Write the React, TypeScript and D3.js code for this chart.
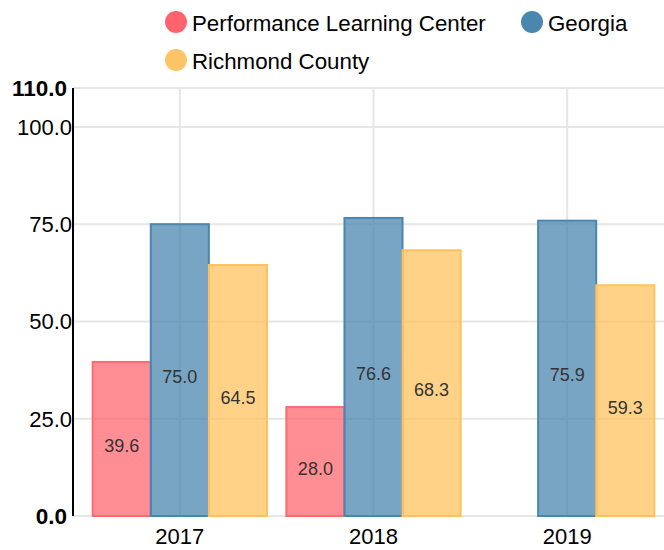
import React from 'react';
import * as d3 from 'd3';

const years = ['2017', '2018', '2019'];
const seriesNames = ['Performance Learning Center', 'Georgia', 'Richmond County'];
const plcValues: (number | null)[] = [39.6, 28.0, null];
const georgiaValues: (number | null)[] = [75.0, 76.6, 75.9];
const richmondValues: (number | null)[] = [64.5, 68.3, 59.3];
const yTicks = [0, 25, 50, 75, 100, 110];

const fills = ['#ff5c66', '#3f7fab', '#ffbf55'];
const strokes = ['#ff6a70', '#4a87b0', '#fdc25e'];
const legendColors = ['#ff646e', '#4a86ad', '#ffc466'];

const width = 664;
const height = 550;
const font = '"Liberation Sans", Arial, Helvetica, sans-serif';

const App: React.FC = () => {
  const series = [plcValues, georgiaValues, richmondValues];

  const axisX = 73;
  const y = d3.scaleLinear().domain([0, 110]).range([516, 88]);
  const x = d3.scaleBand<string>().domain(years).range([83, 664]).paddingInner(0.1).paddingOuter(0.05);
  const x1 = d3.scaleBand<number>().domain([0, 1, 2]).range([0, x.bandwidth()]);

  return (
    <svg width={width} height={height} style={{ position: 'absolute', left: 0, top: 0 }} fontFamily={font}>
      {/* gridlines */}
      {yTicks.map(t => (
        <line key={'h' + t} x1={axisX} x2={width} y1={y(t)} y2={y(t)} stroke="#e6e6e6" strokeWidth={2} />
      ))}
      {years.map(yr => (
        <line key={'v' + yr} x1={x(yr)! + x.bandwidth() / 2} x2={x(yr)! + x.bandwidth() / 2}
          y1={y(110)} y2={y(0)} stroke="#e6e6e6" strokeWidth={2} />
      ))}

      {/* bars */}
      {years.map((yr, i) => (
        <g key={yr} transform={`translate(${x(yr)},0)`}>
          {series.map((vals, s) => {
            const v = vals[i];
            if (v == null) return null;
            const bx = x1(s)!;
            const top = y(v);
            return (
              <g key={s}>
                <rect x={bx} y={top} width={x1.bandwidth()} height={y(0) - top}
                  fill={fills[s]} fillOpacity={0.7} stroke={strokes[s]} strokeWidth={2} />
                <text x={bx + x1.bandwidth() / 2} y={(top + y(0)) / 2 + 13} textAnchor="middle"
                  fontSize={18} fill="#333">{v.toFixed(1)}</text>
              </g>
            );
          })}
        </g>
      ))}

      {/* y axis */}
      <line x1={axisX} x2={axisX} y1={y(110)} y2={y(0)} stroke="#000" strokeWidth={2} />
      {yTicks.map(t => {
        const bold = t === 0 || t === 110;
        return (
          <text key={'t' + t} x={bold ? axisX - 6 : axisX - 1} y={y(t)} dy="0.36em" textAnchor="end"
            fontSize={bold ? 22.5 : 22} fontWeight={bold ? 'bold' : 'normal'} fill="#000">{t.toFixed(1)}</text>
        );
      })}

      {/* x labels */}
      {years.map(yr => (
        <text key={'x' + yr} x={x(yr)! + x.bandwidth() / 2} y={544} textAnchor="middle" fontSize={22} fill="#000">{yr}</text>
      ))}

      {/* legend */}
      {[
        { s: 0, cx: 176, cy: 22 },
        { s: 1, cx: 532, cy: 22 },
        { s: 2, cx: 176, cy: 60 },
      ].map(({ s, cx, cy }) => (
        <g key={'l' + s}>
          <circle cx={cx} cy={cy} r={11} fill={legendColors[s]} />
          <text x={cx + 16} y={cy + 8.5} fontSize={22.3} fill="#000">{seriesNames[s]}</text>
        </g>
      ))}
    </svg>
  );
};

export default App;
